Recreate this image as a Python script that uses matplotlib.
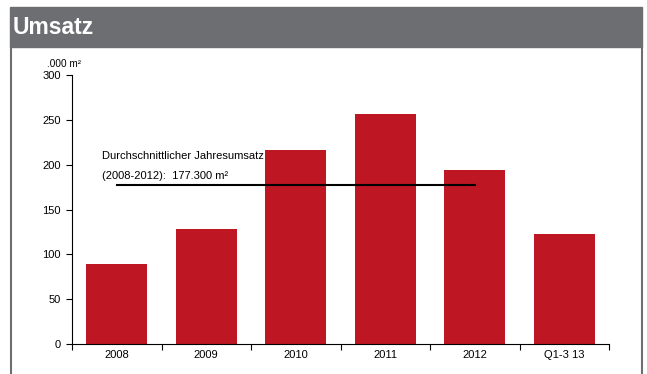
import matplotlib.pyplot as plt
import numpy as np
from matplotlib.patches import Rectangle

plt.rcParams['font.family'] = ['Liberation Sans', 'DejaVu Sans']

categories = ['2008', '2009', '2010', '2011', '2012', 'Q1-3 13']
values = [89, 128, 216, 256.5, 194, 122.7]
average = 177.3
y_ticks = [0, 50, 100, 150, 200, 250, 300]

bar_color = '#BE1622'
header_gray = '#6D6E71'

W, H = 647, 374
fig = plt.figure(figsize=(W / 100, H / 100), dpi=100)

# header band and frame
fig.patches.append(Rectangle((10 / W, 1 - 47 / H), 632 / W, 40 / H,
                             transform=fig.transFigure, color=header_gray, zorder=0))
fig.add_artist(plt.Line2D([11 / W, 11 / W], [0, 1 - 47 / H], color=header_gray, lw=1.5,
                          transform=fig.transFigure))
fig.add_artist(plt.Line2D([641.5 / W, 641.5 / W], [0, 1 - 47 / H], color=header_gray, lw=1.5,
                          transform=fig.transFigure))
fig.text(13 / W, 1 - 28 / H, 'Umsatz', color='white', fontsize=16.5, fontweight='bold',
         va='center', ha='left')

ax = fig.add_axes([72 / W, 1 - 344 / H, (609 - 72) / W, (344 - 75) / H])
x = np.arange(len(categories))
ax.bar(x, values, width=0.68, color=bar_color, zorder=2)
ax.plot([0, 4], [average, average], color='black', lw=1.5, zorder=3)

ax.text(-0.16, 210, 'Durchschnittlicher Jahresumsatz', fontsize=8, va='center', ha='left')
ax.text(-0.16, 187, '(2008-2012):  177.300 m²', fontsize=8, va='center', ha='left')

ax.set_xlim(-0.5, len(categories) - 0.5)
ax.set_ylim(0, 300)
ax.set_yticks(y_ticks)
ax.set_xticks(x)
ax.set_xticklabels(categories)
ax.set_xticks(np.arange(len(categories) + 1) - 0.5, minor=True)
ax.tick_params(axis='x', which='major', length=0, labelsize=8, pad=4)
ax.tick_params(axis='x', which='minor', length=4, direction='out', width=0.8)
ax.tick_params(axis='y', length=4, direction='out', width=0.8, labelsize=8, pad=4)
for s in ['top', 'right']:
    ax.spines[s].set_visible(False)
for s in ['left', 'bottom']:
    ax.spines[s].set_linewidth(0.8)

fig.text(47 / W, 1 - 64 / H, '.000 m²', fontsize=7.2, va='center', ha='left')

fig.savefig('out.png', dpi=100)
